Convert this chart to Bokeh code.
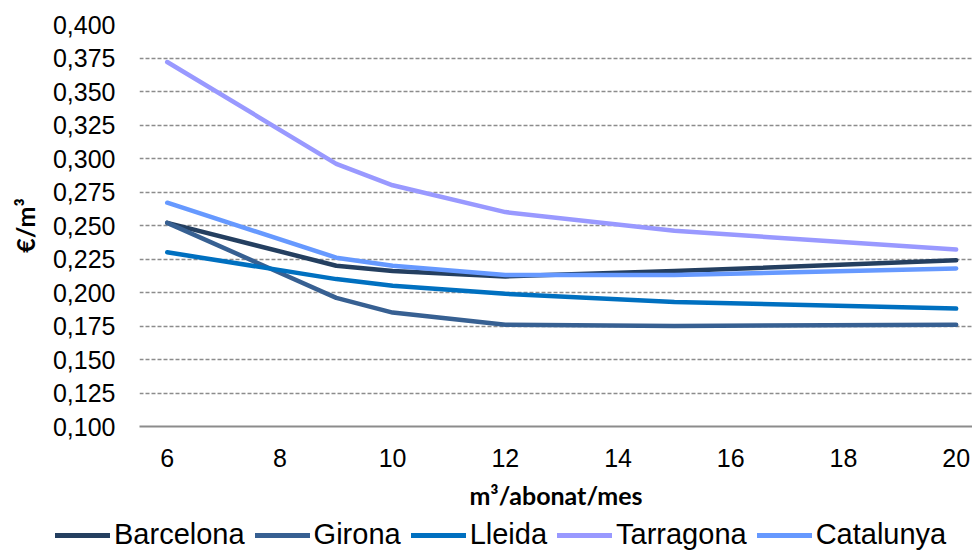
from bokeh.plotting import figure
from bokeh.models import FixedTicker, Legend, LegendItem, Range1d
from bokeh.layouts import column
from bokeh.embed import file_html
from bokeh.resources import INLINE

# ---- data ----
x_vals = [6, 9, 10, 12, 15, 20]
barcelona = [0.252, 0.220, 0.216, 0.212, 0.216, 0.224]
girona = [0.252, 0.196, 0.185, 0.176, 0.175, 0.176]
lleida = [0.230, 0.210, 0.205, 0.199, 0.193, 0.188]
tarragona = [0.372, 0.296, 0.280, 0.260, 0.246, 0.232]
catalunya = [0.267, 0.226, 0.220, 0.213, 0.213, 0.218]

series_names = ["Barcelona", "Girona", "Lleida", "Tarragona", "Catalunya"]
series_values = [barcelona, girona, lleida, tarragona, catalunya]
series_colors = ["#243F60", "#376092", "#0070C0", "#9999FF", "#6699FF"]

x_ticks = [6, 8, 10, 12, 14, 16, 18, 20]
y_ticks = [0.100, 0.125, 0.150, 0.175, 0.200, 0.225, 0.250, 0.275,
           0.300, 0.325, 0.350, 0.375, 0.400]
y_tick_labels = ["0,100", "0,125", "0,150", "0,175", "0,200", "0,225", "0,250",
                 "0,275", "0,300", "0,325", "0,350", "0,375", "0,400"]

x_title = "m³/abonat/mes"
y_title = "€/m³"

# ---- main figure ----
p = figure(width=972, height=518, output_backend="svg", toolbar_location=None,
           x_range=Range1d(5.508, 20.29), y_range=Range1d(0.100, 0.400),
           min_border_left=139, min_border_right=0, min_border_top=24,
           min_border_bottom=92)
p.frame_align = False
p.outline_line_color = None
p.background_fill_color = "white"
p.border_fill_color = "white"

# grid
p.xgrid.grid_line_color = None
p.ygrid.ticker = FixedTicker(ticks=y_ticks)
p.ygrid.grid_line_color = "#8c8c8c"
p.ygrid.grid_line_dash = "4 2"
p.ygrid.grid_line_width = 1.5

# x axis
p.xaxis.ticker = FixedTicker(ticks=x_ticks)
p.xaxis.axis_line_color = "#8c8c8c"
p.xaxis.axis_line_width = 2
p.xaxis.major_tick_line_color = None
p.xaxis.minor_tick_line_color = None
p.xaxis.major_tick_in = 0
p.xaxis.major_tick_out = 0
p.xaxis.major_label_text_font = "Liberation Sans"
p.xaxis.major_label_text_font_size = "25px"
p.xaxis.major_label_text_color = "black"
p.xaxis.major_label_standoff = 22
p.xaxis.axis_label = x_title
p.xaxis.axis_label_text_font = "Lato"
p.xaxis.axis_label_text_font_style = "bold"
p.xaxis.axis_label_text_font_size = "25px"
p.xaxis.axis_label_text_color = "black"
p.xaxis.axis_label_standoff = 10

# y axis
p.yaxis.ticker = FixedTicker(ticks=y_ticks)
p.yaxis.major_label_overrides = {t: lab for t, lab in zip(y_ticks, y_tick_labels)}
p.yaxis.axis_line_color = None
p.yaxis.major_tick_line_color = None
p.yaxis.minor_tick_line_color = None
p.yaxis.major_tick_in = 0
p.yaxis.major_tick_out = 0
p.yaxis.major_label_text_font = "Liberation Sans"
p.yaxis.major_label_text_font_size = "25px"
p.yaxis.major_label_text_color = "black"
p.yaxis.major_label_standoff = 24
p.yaxis.axis_label = y_title
p.yaxis.axis_label_text_font = "Lato"
p.yaxis.axis_label_text_font_style = "bold"
p.yaxis.axis_label_text_font_size = "25px"
p.yaxis.axis_label_text_color = "black"
p.yaxis.axis_label_standoff = 10

for name, vals, col in zip(series_names, series_values, series_colors):
    p.line(x_vals, vals, line_color=col, line_width=4.5,
           line_cap="round", line_join="round")

# ---- legend strip ----
lg = figure(width=972, height=34, output_backend="svg", toolbar_location=None,
            x_range=Range1d(0, 1), y_range=Range1d(0, 1),
            x_axis_type=None, y_axis_type=None,
            min_border_left=0, min_border_right=0, min_border_top=0,
            min_border_bottom=0)
lg.frame_align = False
lg.outline_line_color = None
lg.xgrid.grid_line_color = None
lg.ygrid.grid_line_color = None

items = []
for name, vals, col in zip(series_names, series_values, series_colors):
    r = lg.line(x_vals, vals, line_color=col, line_width=5,
                line_cap="round", line_join="round")
    items.append(LegendItem(label=name, renderers=[r]))

legend = Legend(items=items, orientation="horizontal", location=(55, 1),
                padding=0, margin=0, spacing=10, label_standoff=4,
                glyph_width=55, glyph_height=20,
                label_text_font="Liberation Sans", label_text_font_size="29px",
                label_text_color="black",
                border_line_color=None, background_fill_alpha=0)
lg.add_layout(legend, "center")

layout = column(p, lg, spacing=0)
open("out.html", "w").write(file_html(layout, INLINE))
